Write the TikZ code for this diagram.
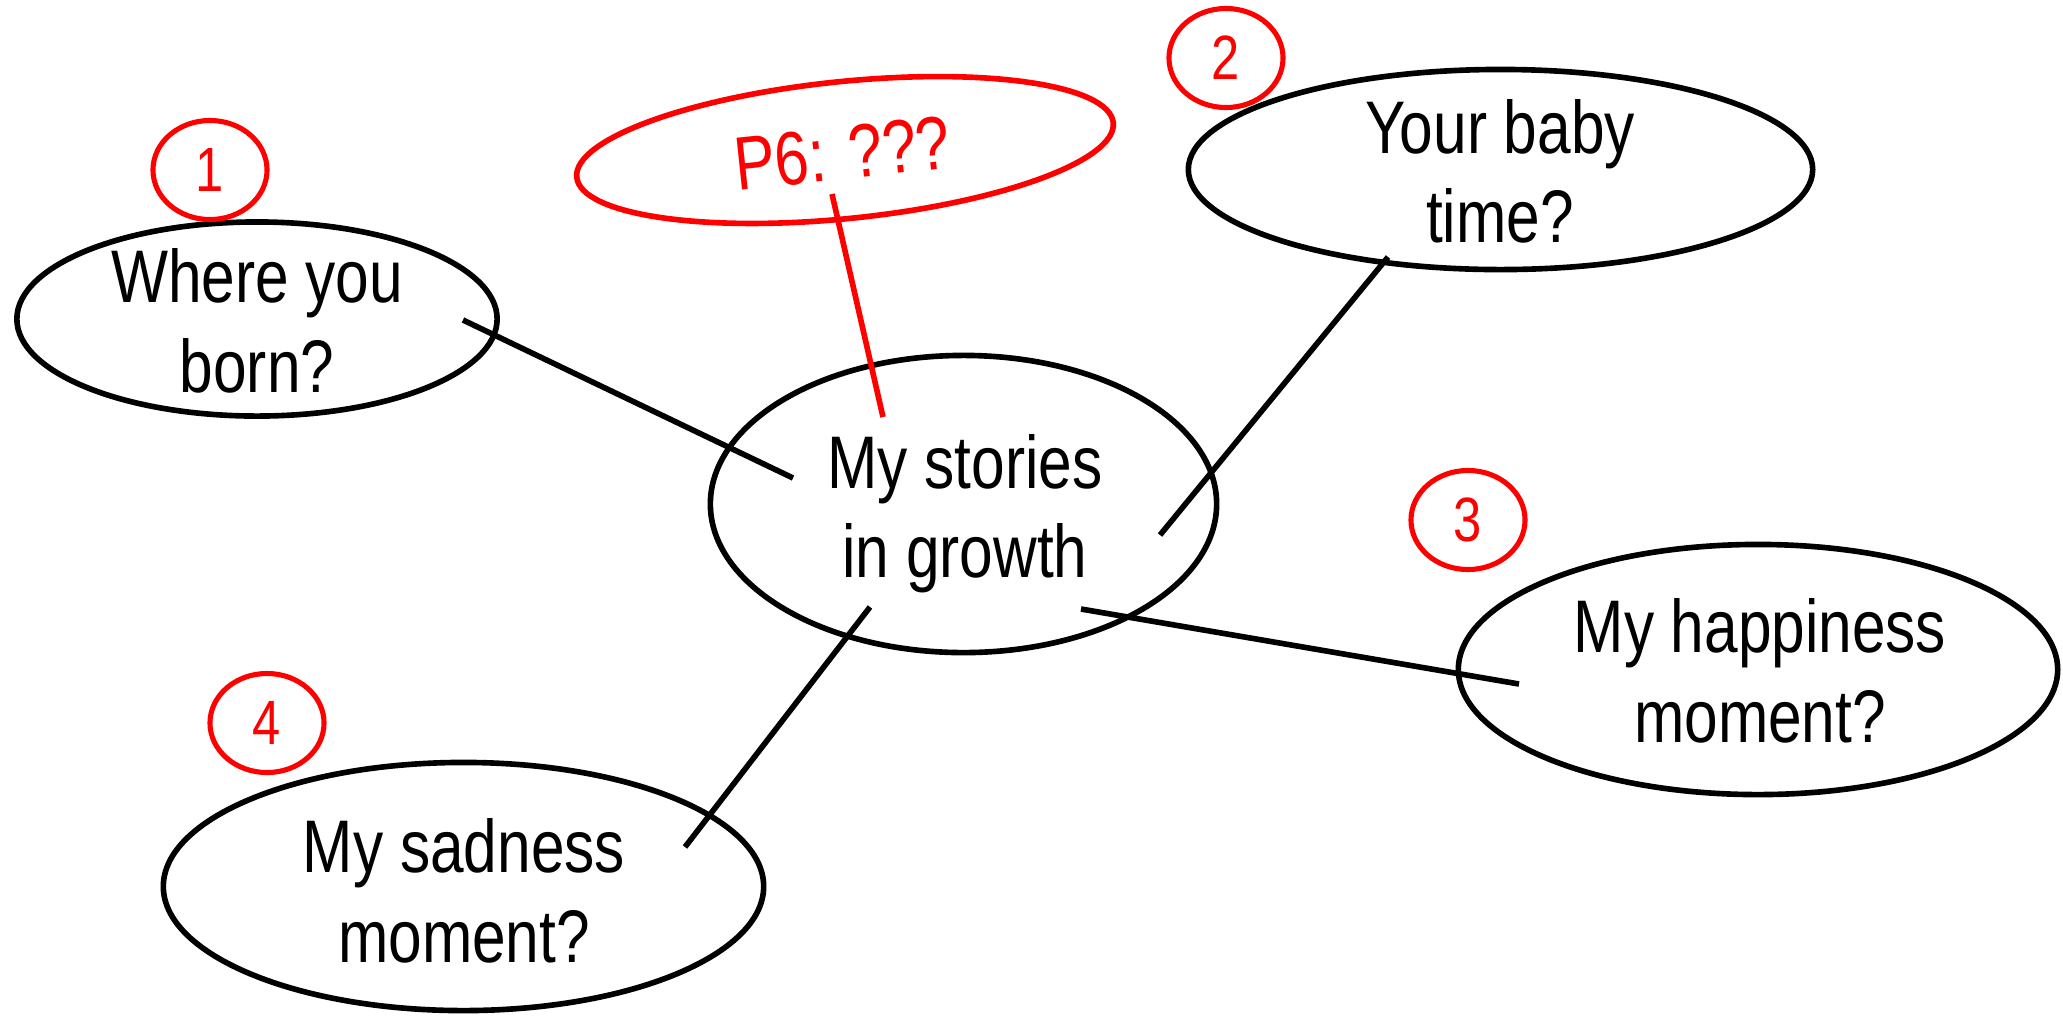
\documentclass[tikz,border=0pt]{standalone}
\usepackage{fontspec}
\setmainfont[FakeStretch=0.81]{Liberation Sans}
\usetikzlibrary{shapes.geometric}
\begin{document}
\begin{tikzpicture}[x=0.01cm, y=-0.01cm,
  bubble/.style={ellipse, draw=black, line width=1.6pt, inner sep=0pt},
  badge/.style={ellipse, draw=red, line width=1.45pt, inner sep=0pt,
    minimum width=1.14cm, minimum height=0.99cm, text=red,
    font=\fontsize{17.8}{20}\selectfont},
  qtext/.style={anchor=base, inner sep=0pt, font=\fontsize{21.2}{25}\selectfont},
  link/.style={draw=black, line width=1.6pt},
  note/.style={draw=red, line width=1.6pt},
]
\useasboundingbox (0,0) rectangle (2063,1017);

% topic bubbles
\node[bubble, minimum width=5.06cm, minimum height=2.97cm] (core) at (963.5,504) {};
\node[bubble, minimum width=4.80cm, minimum height=1.94cm] (born) at (257,319) {};
\node[bubble, minimum width=6.24cm, minimum height=2.00cm] (baby) at (1500.5,169.5) {};
\node[bubble, minimum width=5.99cm, minimum height=2.50cm] (happy) at (1758,669.5) {};
\node[bubble, minimum width=6.00cm, minimum height=2.48cm] (sad) at (463.5,886.5) {};

% bubble texts
\node[qtext] (core-a) at (965,488) {My stories};
\node[qtext] (core-b) at (965,577) {in growth};
\node[qtext] (born-a) at (257,302) {Where you};
\node[qtext] (born-b) at (257,392) {born?};
\node[qtext] (baby-a) at (1500,153) {Your baby};
\node[qtext] (baby-b) at (1500,242) {time?};
\node[qtext] (happy-a) at (1760,652) {My happiness};
\node[qtext] (happy-b) at (1760,742) {moment?};
\node[qtext] (sad-a) at (464,872) {My sadness};
\node[qtext] (sad-b) at (464,962) {moment?};

% numbered badges
\node[badge] (n1) at (210,170) {1};
\node[badge] (n2) at (1226,58) {2};
\node[badge] (n3) at (1468,520) {3};
\node[badge] (n4) at (267,723) {4};

% open question note
\node[ellipse, draw=red, line width=1.6pt, inner sep=0pt,
  minimum width=5.39cm, minimum height=1.37cm, rotate=5.8] (p6) at (845,150) {};
\node[qtext, text=red, font=\fontsize{21.5}{25}\selectfont, rotate=6] (p6-t) at (845,179) {P6: ???};

% connector ends inside the bubbles
\coordinate (born-end) at (463,320);
\coordinate (core-w) at (793,478);
\coordinate (baby-end) at (1388,257);
\coordinate (core-ne) at (1160,535);
\coordinate (core-se) at (1081,609);
\coordinate (happy-end) at (1519,684);
\coordinate (core-sw) at (870,607);
\coordinate (sad-end) at (685,847);
\coordinate (p6-end) at (832,194);
\coordinate (core-n) at (883,417);

\draw[link] (born-end) -- (core-w);
\draw[link] (baby-end) -- (core-ne);
\draw[link] (core-se) -- (happy-end);
\draw[link] (core-sw) -- (sad-end);
\draw[note] (p6-end) -- (core-n);
\end{tikzpicture}
\end{document}
